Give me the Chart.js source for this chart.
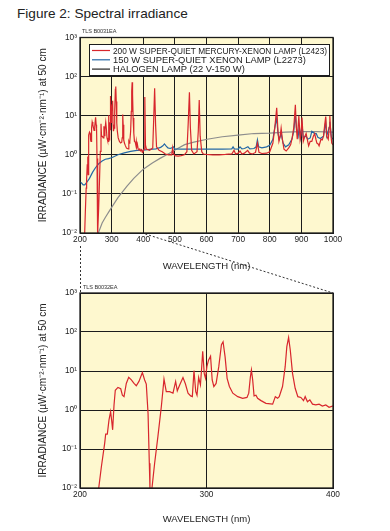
<!DOCTYPE html>
<html>
<head>
<meta charset="utf-8">
<script src="https://cdn.jsdelivr.net/npm/chart.js@4.4.1/dist/chart.umd.min.js"></script>
<style>
  body { margin: 0; background: #fff; font-family: "Liberation Sans", Arial, sans-serif; }
  #page { position: relative; width: 390px; height: 531px; overflow: hidden; }
  canvas { position: absolute; left: 0; }
  #title { position: absolute; left: 17px; top: 6px; font-size: 13.6px; color: #222; }
  .code { position: absolute; font-size: 5.6px; color: #333; letter-spacing: -0.1px; }
</style>
</head>
<body>
<div id="page">
  <div id="title">Figure 2: Spectral irradiance</div>
  <canvas id="topChart" style="top:0" width="390" height="280"></canvas>
  <canvas id="bottomChart" style="top:280px" width="390" height="251"></canvas>
  <div class="code" style="left:82px;top:28px">TLS B0031EA</div>
  <div class="code" style="left:83px;top:284px">TLS B0032EA</div>
  <canvas id="overlay" style="top:0;pointer-events:none" width="390" height="531"></canvas>
</div>
<script>
// 200 W super-quiet Hg-Xe lamp, UV part
const hgXeUvNm = [213, 214.8, 216.9, 219.5, 220.3, 221.6, 222.9, 224.2, 225, 225.8, 226.9, 227.9, 230, 232.2,
  233.5, 234.8, 236.6, 238.5, 240.6, 242.7, 244.5, 246.6, 249.3, 251.1, 252.4, 253.8, 254.8, 255.3, 255.8,
  256.5, 256.9, 259, 261.6, 264.3, 266.4, 268.2, 270.9, 273.5, 275.6, 276.9, 278.8, 281.4, 283.3, 285.4,
  287.5, 288.8, 290.1, 291.5, 292.5, 293.8, 295.2, 296, 297, 298.2, 299.2, 300.3, 301.6, 303.2, 304.5,
  305.8, 307.6, 309.7, 311.8, 313.1, 314.7, 316.3, 318.1, 320.8, 324.7, 328.6, 332, 333.4, 334.7, 335.5,
  336.5, 337.6, 339.1, 340.4, 343.1, 347, 352.3, 354.4, 356.2, 357.5, 360.1, 362.2, 363.5, 364.9, 366.2,
  368, 370.1, 372.2, 374.6, 376.7, 378, 379.8, 381.7, 383.8, 386.4, 389, 391.6, 394.3, 396.9, 399.5, 400];
const hgXeUvVal = [0.006, 0.01, 0.035, 0.14, 0.24, 0.24, 0.55, 0.91, 0.55, 0.31, 1.35, 3.2, 3.8, 3.5,
  2.4, 2.2, 4.8, 6.9, 5.9, 4.8, 4.2, 5.4, 9.1, 5.9, 4.6, 0.81, 0.043, 0.01, 0.005,
  0.005, 0.01, 0.043, 0.21, 1.23, 6.2, 2.95, 2.95, 2.7, 5.4, 3.1, 4.4, 6.8, 4.7, 2.7,
  2.3, 2.2, 10.2, 2.95, 2.4, 6.8, 4.4, 10, 32, 8.7, 6.5, 12.9, 19, 24, 5.9,
  4.0, 4.8, 12.9, 47, 56, 23, 6.5, 4.0, 2.7, 2.2, 2.0, 2.1, 2.7, 7.1, 10.7,
  5.9, 2.3, 2.4, 2.0, 1.74, 1.48, 1.41, 2.2, 2.0, 2.2, 4.0, 12.9, 42, 72, 35,
  8.7, 3.6, 2.2, 2.1, 1.74, 2.2, 1.62, 1.82, 1.41, 1.35, 1.41, 1.26, 1.35, 1.17, 1.26, 1.25];

// same lamp, visible / near-IR part (upper chart)
const hgXeVisNm = [403, 405, 407, 410, 420, 430, 433, 436, 439, 442, 450, 460, 470, 480, 490, 493, 495,
  500, 510, 520, 530, 538, 542, 546, 549, 553, 560, 570, 574, 577, 580, 585, 590, 600, 620, 640, 660,
  680, 687, 692, 700, 706, 712, 720, 730, 736, 745, 755, 761, 766, 775, 790, 800, 810, 816, 822, 826,
  829, 833, 836, 840, 845, 852, 860, 866, 871, 876, 881, 884, 887, 892, 896, 899, 902, 906, 910, 915,
  920, 923, 928, 933, 938, 942, 946, 949, 953, 956, 962, 966, 970, 974, 977, 980, 985, 988, 990, 993,
  996, 1000];
const hgXeVisVal = [1.4, 30, 1.8, 1.4, 1.3, 1.5, 8, 50, 6, 1.6, 1.3, 1.2, 1.05, 1.0, 1.0, 1.5, 1.1,
  0.95, 0.93, 0.95, 1.0, 1.2, 6, 40, 5, 1.3, 1.05, 1.2, 4, 25, 3, 1.2, 1.05, 1.02, 1.0, 1.0, 1.02,
  1.05, 1.3, 1.05, 1.1, 1.25, 1.05, 1.1, 1.3, 1.1, 1.05, 1.15, 2.0, 1.15, 1.08, 1.1, 1.2, 2, 5, 16, 4,
  2.2, 3, 4.8, 2.5, 1.4, 1.25, 1.5, 1.8, 2.7, 5, 19, 5, 2.5, 10, 2.5, 3.5, 9, 2.2, 2.8, 3.5,
  2.2, 1.7, 2.2, 2.2, 3, 3.5, 2.5, 2, 1.9, 1.7, 2.5, 2.4, 3, 6, 9.5, 3, 2.5, 5, 10, 3.5,
  2, 1.8];

// 150 W super-quiet xenon lamp
const xenonNm = [200, 205, 210, 215, 220, 230, 240, 250, 260, 270, 280, 290, 300, 320, 340, 360, 380,
  400, 420, 440, 455, 462, 467, 472, 478, 485, 490, 495, 500, 520, 550, 580, 600, 650, 680, 684, 688,
  700, 706, 712, 720, 731, 737, 750, 757, 761, 765, 775, 790, 800, 810, 816, 822, 826, 830, 836, 842,
  850, 860, 870, 876, 881, 885, 890, 893, 897, 902, 906, 915, 920, 928, 933, 942, 947, 952, 960, 970,
  977, 980, 988, 990, 995, 1000];
const xenonVal = [0.2, 0.19, 0.17, 0.17, 0.19, 0.25, 0.36, 0.48, 0.6, 0.69, 0.77, 0.8, 0.84, 1.0, 1.12,
  1.22, 1.3, 1.32, 1.38, 1.42, 1.55, 1.7, 1.9, 1.7, 1.5, 1.45, 1.5, 1.6, 1.42, 1.4, 1.4, 1.4, 1.4, 1.4,
  1.42, 1.6, 1.42, 1.4, 1.6, 1.42, 1.45, 1.6, 1.42, 1.45, 1.6, 2.4, 1.6, 1.5, 1.6, 1.75, 2.5, 5, 8.7,
  3.5, 2.5, 3.5, 2, 1.6, 1.8, 2.5, 4, 10.7, 4.5, 3, 5, 2.8, 6, 2.8, 3, 2.5, 2.7, 4, 3.5, 3.5, 2.8,
  2.6, 3, 7, 3, 5, 7, 2.8, 2.5];

// halogen lamp 22 V-150 W
const halogenNm = [252, 258, 270, 280, 295, 320, 348, 370, 400, 430, 453, 480, 506, 531, 560, 602, 650,
  700, 750, 800, 850, 900, 950, 1000];
const halogenVal = [0.007, 0.01, 0.018, 0.025, 0.039, 0.08, 0.155, 0.25, 0.43, 0.63, 0.81, 1.07, 1.41,
  1.82, 2.1, 2.5, 2.9, 3.2, 3.5, 3.6, 3.8, 3.9, 3.9, 3.8];

const decades = [0.01, 0.1, 1, 10, 100, 1000];
const decadeLabels = ["10\u207B\u00B2", "10\u207B\u00B9", "10\u2070", "10\u00B9", "10\u00B2", "10\u00B3"];

const RED = "#d8262d";
const BLUE = "#2468a6";
const GREY = "#8d8d8d";
const INK = "#1c1c1c";

const pts = (xs, ys) => xs.map((x, i) => ({ x, y: ys[i] }));

const plotBackground = {
  id: "plotBackground",
  beforeDraw(chart) {
    const { ctx, chartArea: a } = chart;
    ctx.save();
    ctx.fillStyle = "#fef8cf";
    ctx.fillRect(a.left, a.top, a.right - a.left, a.bottom - a.top);
    ctx.restore();
  },
  afterDraw(chart) {
    const { ctx, chartArea: a } = chart;
    ctx.save();
    ctx.strokeStyle = INK;
    ctx.lineWidth = 1.3;
    ctx.strokeRect(a.left, a.top, a.right - a.left, a.bottom - a.top);
    ctx.restore();
  },
};

// legend box drawn inside the plot area, like the printed figure
const boxLegend = {
  id: "boxLegend",
  afterDraw(chart, args, opts) {
    if (!opts.show) return;
    const { ctx, chartArea: a } = chart;
    const x = a.left + 9, y = a.top + 6.5, w = 240, h = 31;
    ctx.save();
    ctx.fillStyle = "#fff";
    ctx.fillRect(x, y, w, h);
    ctx.strokeStyle = INK;
    ctx.lineWidth = 1;
    ctx.strokeRect(x + 0.5, y + 0.5, w, h);
    ctx.font = "9.4px 'Liberation Sans', Arial, sans-serif";
    ctx.textBaseline = "middle";
    chart.data.datasets.forEach((ds, i) => {
      const ly = y + 6.5 + i * 9.3;
      ctx.strokeStyle = ds.legendColor;
      ctx.lineWidth = 1.2;
      ctx.beginPath();
      ctx.moveTo(x + 3, ly);
      ctx.lineTo(x + 21, ly);
      ctx.stroke();
      ctx.fillStyle = "#222";
      ctx.fillText(ds.label, x + 24, ly + 0.5, w - 26);
    });
    ctx.restore();
  },
};

function makeOptions(xMax, padTop, xAxisHeight, titlePad, legend) {
  return {
    responsive: false,
    animation: false,
    layout: { padding: { top: padTop, right: 57, left: 0, bottom: 0 } },
    elements: { point: { radius: 0 }, line: { borderWidth: 1.2, tension: 0 } },
    plugins: { legend: { display: false }, tooltip: { enabled: false }, boxLegend: { show: legend } },
    scales: {
      x: {
        type: "linear",
        min: 200,
        max: xMax,
        afterFit: (s) => { s.height = xAxisHeight; },
        ticks: {
          stepSize: 100, padding: 2, color: "#222",
          font: { size: 8.3, family: "'Liberation Sans', Arial" },
          callback: (v) => String(v),
        },
        grid: { color: INK, lineWidth: 1, drawTicks: false },
        border: { color: INK },
        title: {
          display: true,
          text: "WAVELENGTH (nm)",
          color: "#222",
          padding: { top: 0, bottom: titlePad },
          font: { size: 9.5, family: "'Liberation Sans', Arial" },
        },
      },
      y: {
        type: "logarithmic",
        min: 0.01,
        max: 1000,
        afterFit: (s) => { s.width = 80; },
        afterBuildTicks: (s) => { s.ticks = decades.map((v) => ({ value: v })); },
        ticks: {
          padding: 3,
          color: "#222",
          font: { size: 8.3, family: "'Liberation Sans', Arial" },
          callback: (v) => decadeLabels[decades.indexOf(v)] ?? "",
        },
        grid: { color: INK, lineWidth: 1, drawTicks: false },
        border: { color: INK },
        title: {
          display: true,
          text: "IRRADIANCE (\u00B5W\u00B7cm\u207B\u00B2\u00B7nm\u207B\u00B9) at 50 cm",
          color: "#222",
          padding: { top: 37, bottom: 0 },
          font: { size: 10, family: "'Liberation Sans', Arial" },
        },
      },
    },
  };
}

const topChart = new Chart(document.getElementById("topChart"), {
  type: "line",
  data: {
    datasets: [
      { label: "200 W SUPER-QUIET MERCURY-XENON LAMP (L2423)", data: pts(hgXeUvNm.concat(hgXeVisNm), hgXeUvVal.concat(hgXeVisVal)),
        borderColor: RED, legendColor: RED, order: 1 },
      { label: "150 W SUPER-QUIET XENON LAMP (L2273)", data: pts(xenonNm, xenonVal),
        borderColor: BLUE, legendColor: BLUE, order: 2 },
      { label: "HALOGEN LAMP (22 V-150 W)", data: pts(halogenNm, halogenVal),
        borderColor: GREY, legendColor: "#222", order: 3 },
    ],
  },
  options: makeOptions(1000, 37.5, 47, 8.3, true),
  plugins: [plotBackground, boxLegend],
});

const bottomChart = new Chart(document.getElementById("bottomChart"), {
  type: "line",
  data: {
    datasets: [
      { label: "200 W SUPER-QUIET MERCURY-XENON LAMP (L2423)", data: pts(hgXeUvNm, hgXeUvVal),
        borderColor: RED, legendColor: RED },
    ],
  },
  options: makeOptions(400, 13, 43, 6.3, false),
  plugins: [plotBackground, boxLegend],
});

// dotted zoom connectors between the two panels
(function drawConnectors() {
  const ctx = document.getElementById("overlay").getContext("2d");
  const offset = 280;
  const tx = topChart.scales.x, bx = bottomChart.scales.x;
  const topBottom = topChart.chartArea.bottom;
  const botTop = bottomChart.chartArea.top + offset;
  ctx.strokeStyle = "#333";
  ctx.lineWidth = 1;
  ctx.setLineDash([2, 2]);
  ctx.beginPath();
  ctx.moveTo(Math.round(tx.getPixelForValue(200)) + 0.5, topBottom + 13);
  ctx.lineTo(Math.round(bx.getPixelForValue(200)) + 0.5, botTop);
  ctx.moveTo(tx.getPixelForValue(400) + 2, topBottom + 1);
  ctx.lineTo(bx.getPixelForValue(400), botTop);
  ctx.stroke();
})();
</script>
</body>
</html>
